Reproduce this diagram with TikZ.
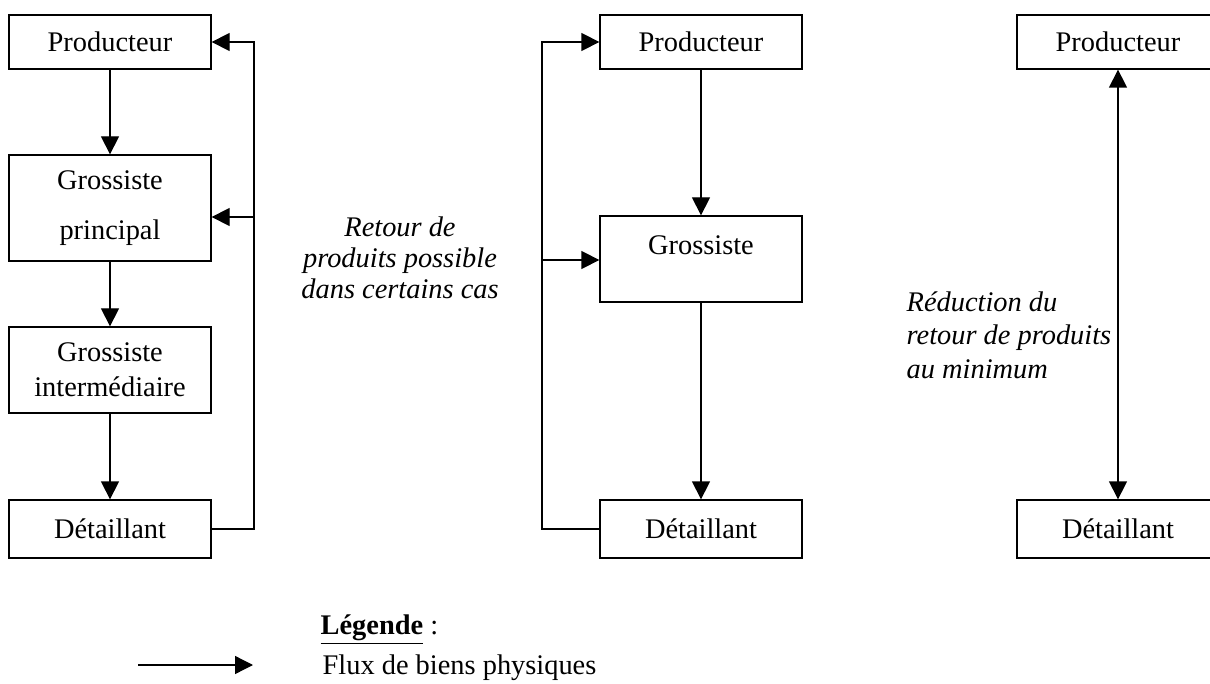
\documentclass[tikz,border=0pt]{standalone}
\usepackage{fontspec}
\setmainfont{Liberation Serif}
\usetikzlibrary{arrows.meta, positioning}

\begin{document}
\begin{tikzpicture}[x=0.5pt, y=-0.5pt, >={Triangle[length=9pt,width=9pt]},
    line width=0.65pt,
    box/.style={draw, minimum width=101pt, inner sep=0pt, align=center,
      font=\fontsize{14.2}{17.5}\selectfont},
    note/.style={inner sep=0pt, font=\itshape\fontsize{14.2}{15.5}\selectfont}]

      \useasboundingbox (0,0) rectangle (1210,684);
      \clip (0,0) rectangle (1210,684);

      % Long chain
      \node[box, minimum height=27pt] (prodA) at (110,42) {Producteur};
      \node[box, minimum height=53pt] (grosA) at (110,208) {Grossiste\\[7.5pt]principal};
      \node[box, minimum height=43pt] (grosB) at (110,370) {Grossiste\\intermédiaire};
      \node[box, minimum height=29pt] (detA) at (110,529) {Détaillant};

      \draw[->] (prodA) -- (grosA);
      \draw[->] (grosA) -- (grosB);
      \draw[->] (grosB) -- (detA);

      % Returns to the top of the long chain
      \coordinate (retA) at (254,217);
      \draw[->] (detA.east) -- (detA.east -| retA) -- (retA |- prodA.east) -- (prodA.east);
      \draw[->] (retA) -- (retA -| grosA.east);

      % Short chain
      \node[box, minimum height=27pt] (prodB) at (701,42) {Producteur};
      \node[box, minimum height=43pt, text height=10pt, text depth=14.6pt] (grosC) at (701,259) {Grossiste};
      \node[box, minimum height=29pt] (detB) at (701,529) {Détaillant};

      \draw[->] (prodB) -- (grosC);
      \draw[->] (grosC) -- (detB);

      % Returns on the left side
      \coordinate (retB) at (542,260);
      \draw[->] (detB.west) -- (detB.west -| retB) -- (retB |- prodB.west) -- (prodB.west);
      \draw[->] (retB) -- (retB -| grosC.west);

      \node[note, align=center] (noteB) at (400,258) {Retour de\\produits possible\\dans certains cas};

      % Direct chain
      \node[box, minimum height=27pt] (prodC) at (1118,42) {Producteur};
      \node[box, minimum height=29pt] (detC) at (1118,529) {Détaillant};
      \draw[<->] (prodC) -- (detC);

      \node[note, align=left, anchor=west, font=\itshape\fontsize{14.2}{16.75}\selectfont] (noteC) at (906,335) {Réduction du\\retour de produits\\au minimum};

      % Legend
      \node[anchor=west, inner sep=0pt, font=\fontsize{14.2}{17}\selectfont] (legTitle) at (320,630) {\underline{\textbf{Légende}} :};
      \coordinate (legS) at (138,665);
      \coordinate (legE) at (253,665);
      \draw[->] (legS) -- (legE);
      \node[anchor=west, inner sep=0pt, font=\fontsize{14.2}{17}\selectfont] (legText) at (322,668) {Flux de biens physiques};

\end{tikzpicture}
\end{document}
